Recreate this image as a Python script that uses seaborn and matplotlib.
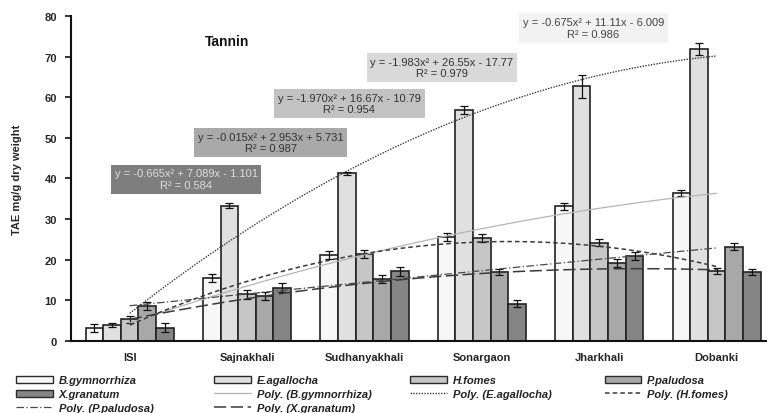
import numpy as np
import pandas as pd
import matplotlib
matplotlib.use('Agg')
from matplotlib import pyplot as plt
from matplotlib.patches import Patch
from matplotlib.lines import Line2D
import seaborn as sb

# data
sites = ['ISI', 'Sajnakhali', 'Sudhanyakhali', 'Sonargaon', 'Jharkhali', 'Dobanki']
species = ['B.gymnorrhiza', 'E.agallocha', 'H.fomes', 'P.paludosa', 'X.granatum']

b_gym = [3.1, 15.6, 21.1, 25.6, 33.1, 36.4]
e_aga = [3.9, 33.3, 41.3, 56.9, 62.7, 71.8]
h_fom = [5.3, 11.5, 21.4, 25.3, 24.2, 17.2]
p_pal = [8.5, 11.1, 15.2, 17.0, 19.1, 23.2]
x_gra = [3.3, 13.1, 17.1, 9.2, 20.9, 17.0]

b_gym_sd = [1.0, 1.0, 1.0, 1.0, 0.8, 0.8]
e_aga_sd = [0.5, 0.6, 0.4, 1.0, 2.8, 1.5]
h_fom_sd = [0.9, 1.1, 1.0, 1.0, 0.9, 0.8]
p_pal_sd = [1.0, 1.0, 1.0, 0.7, 1.0, 0.8]
x_gra_sd = [1.0, 1.1, 1.1, 0.9, 0.9, 0.8]

# trendline coefficients (a, b, c) printed on the chart, with R2
b_gym_fit = [-0.675, 11.11, -6.009]
e_aga_fit = [-1.983, 26.55, -17.77]
h_fom_fit = [-1.970, 16.67, -10.79]
p_pal_fit = [-0.015, 2.953, 5.731]
x_gra_fit = [-0.665, 7.089, -1.101]
r2_values = [0.986, 0.979, 0.954, 0.987, 0.584]

values = [b_gym, e_aga, h_fom, p_pal, x_gra]
sds = [b_gym_sd, e_aga_sd, h_fom_sd, p_pal_sd, x_gra_sd]
fits = [b_gym_fit, e_aga_fit, h_fom_fit, p_pal_fit, x_gra_fit]

bar_colors = ['#f7f7f7', '#e0e0e0', '#c6c6c6', '#a8a8a8', '#858585']
box_colors = ['#f2f2f2', '#d9d9d9', '#c2c2c2', '#a9a9a9', '#7e7e7e']
box_text = ['#444444', '#333333', '#333333', '#333333', '#dddddd']
line_styles = [
    dict(color='#b5b5b5', lw=0.9, ls='-'),
    dict(color='#3a3a3a', lw=1.0, ls=(0, (1, 1))),
    dict(color='#3a3a3a', lw=1.1, ls=(0, (3, 2))),
    dict(color='#4a4a4a', lw=0.9, ls=(0, (6, 2, 1, 2))),
    dict(color='#3a3a3a', lw=1.1, ls=(0, (8, 3))),
]
# label box centres (data coords)
box_pos = [(3.95, 77.0), (2.66, 67.3), (1.87, 58.5), (1.20, 48.9), (0.48, 39.8)]

df = pd.DataFrame({
    'site': np.tile(sites, len(species)),
    'species': np.repeat(species, len(sites)),
    'value': np.concatenate(values),
})

sb.set_theme(style='white')
plt.rcParams['font.family'] = ['Liberation Sans', 'DejaVu Sans']

fig = plt.figure(figsize=(7.68, 4.14), dpi=100)
ax = fig.add_axes([0.0924, 0.174, 0.905, 0.785])

sb.barplot(data=df, x='site', y='value', hue='species', order=sites,
           hue_order=species, palette=bar_colors, width=0.75,
           edgecolor='#222222', linewidth=1.2, errorbar=None,
           legend=False, ax=ax)

# error bars on every bar
for cont, sd in zip(ax.containers, sds):
    xs = [b.get_x() + b.get_width() / 2 for b in cont]
    ys = [b.get_height() for b in cont]
    ax.errorbar(xs, ys, yerr=sd, fmt='none', ecolor='#111111',
                elinewidth=0.9, capsize=3, capthick=0.9, zorder=5)

# polynomial trendlines, category 1..6 sits at positions 0..5
xx = np.linspace(1, len(sites), 100)
for fit, st in zip(fits, line_styles):
    ax.plot(xx - 1, np.polyval(fit, xx), zorder=6, **st)

# equation boxes
for fit, r2, pos, fc, tc in zip(fits, r2_values, box_pos, box_colors, box_text):
    a, b, c = fit
    sign_b = '+' if b >= 0 else '-'
    sign_c = '+' if c >= 0 else '-'
    txt = 'y = %.3fx\u00b2 %s %sx %s %s\nR\u00b2 = %.3f' % (
        a, sign_b, ('%.4g' % abs(b)), sign_c, ('%.4g' % abs(c)), r2)
    ax.text(pos[0], pos[1], txt, ha='center', va='center', fontsize=8,
            color=tc, linespacing=1.2, zorder=7,
            bbox=dict(boxstyle='square,pad=0.35', fc=fc, ec='none'))

ax.text(0.83, 73.8, 'Tannin', ha='center', va='center', fontsize=10,
        fontweight='bold', color='#111111')

ax.set_xlim(-0.5, 5.42)
ax.set_ylim(0, 80)
ax.set_yticks(range(0, 81, 10))
ax.set_xlabel('')
ax.set_ylabel('TAE mg/g dry weight', fontsize=8, fontweight='bold', labelpad=16)
ax.set_xticks(range(len(sites)))
ax.set_xticklabels(sites, fontsize=8, fontweight='bold')
ax.set_xticks(np.arange(0.5, 5, 1), minor=True)
ax.tick_params(axis='x', which='major', length=0, pad=8)
ax.tick_params(axis='x', which='minor', length=3, direction='in', width=1.5, color='#111111')
ax.tick_params(axis='y', length=4, direction='out', width=1.2, color='#111111',
               labelsize=8, pad=6, left=True)
for lab in ax.get_yticklabels():
    lab.set_fontweight('bold')
sb.despine(ax=ax)
for s in ['left', 'bottom']:
    ax.spines[s].set_color('#111111')
    ax.spines[s].set_linewidth(1.5)

# legend, laid out row by row in four columns
bar_handles = [Patch(fc=c, ec='#2a2a2a', lw=1.0) for c in bar_colors]
line_handles = [Line2D([], [], **st) for st in line_styles]
items = list(zip(bar_handles, species)) + \
    list(zip(line_handles, ['Poly. (%s)' % s for s in species]))
col_x = [0.014, 0.272, 0.527, 0.780]
for k in range(4):
    col = items[k::4]
    lg = fig.legend([h for h, _ in col], [t for _, t in col],
                    loc='upper left', bbox_to_anchor=(col_x[k], 0.105),
                    frameon=False, handlelength=3.3, handleheight=0.6,
                    handletextpad=0.5, labelspacing=0.35, borderpad=0,
                    prop=dict(size=8, style='italic', weight='bold'))
    for t in lg.get_texts():
        t.set_color('#222222')

fig.savefig('out.png', dpi=100)
